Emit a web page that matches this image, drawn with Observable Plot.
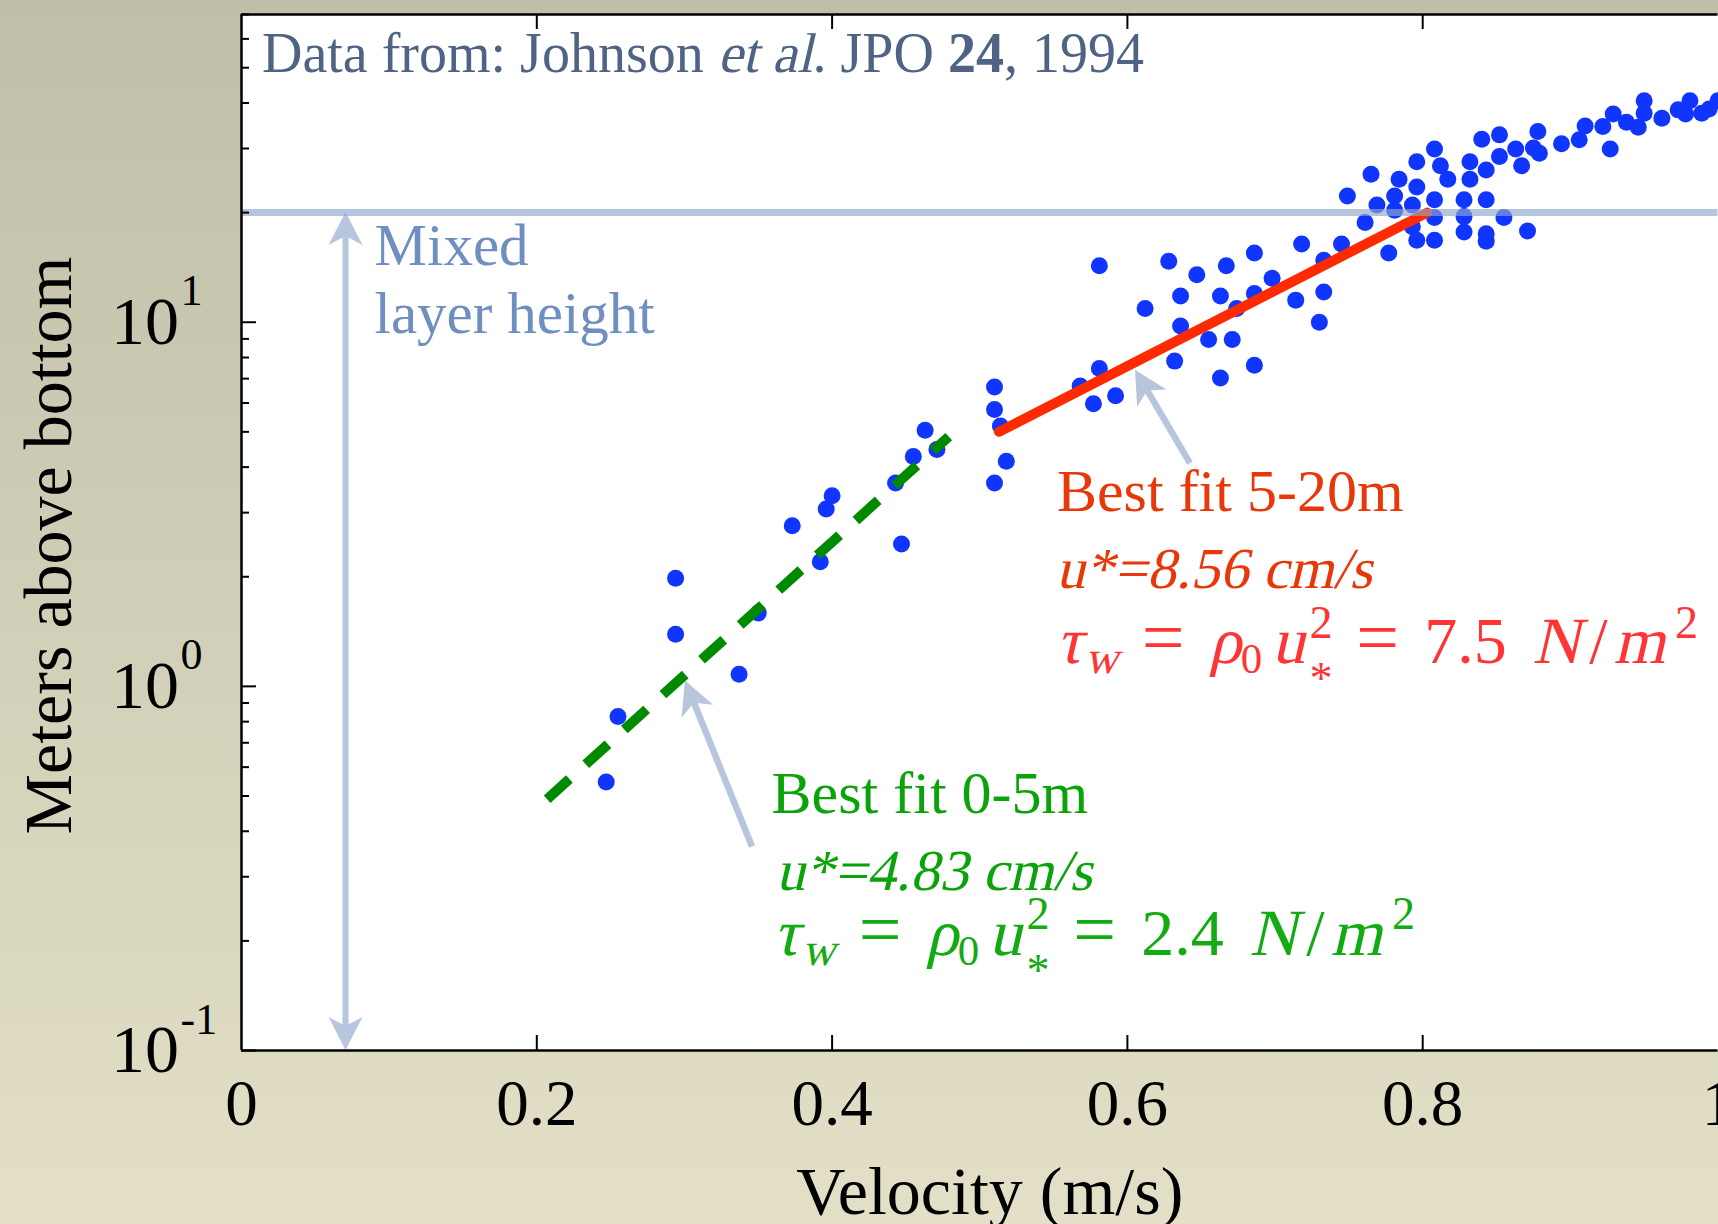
<!DOCTYPE html>
<html>
<head>
<meta charset="utf-8">
<script src="https://cdn.jsdelivr.net/npm/d3@7"></script>
<script src="https://cdn.jsdelivr.net/npm/@observablehq/plot@0.6"></script>
<style>
  html, body { margin: 0; padding: 0; width: 1718px; height: 1224px; overflow: hidden; }
  body { background: linear-gradient(to bottom, #bfbea8 0%, #cfcdb5 45%, #e3e0c7 100%); }
  #chart svg { display: block; }
</style>
</head>
<body>
<div id="chart"></div>
<script>
// ---------- data ----------
const velocity = [
  0.463, 0.471, 0.455, 0.400, 0.396, 0.443, 0.373, 0.447, 0.392, 0.294, 0.350, 0.294, 0.337, 0.255, 0.247,
  0.581, 0.628, 0.647, 0.667, 0.686, 0.718, 0.745, 0.733, 0.612, 0.636, 0.663, 0.686, 0.698, 0.674, 0.714, 0.733,
  0.730, 0.636, 0.655, 0.671, 0.632, 0.686, 0.663, 0.581, 0.568, 0.577, 0.592, 0.510, 0.510, 0.514, 0.518, 0.510,
  0.950, 0.950, 0.981, 0.973, 0.978, 0.989, 0.994, 1.000, 0.962, 0.929, 0.938, 0.946, 0.922, 0.910, 0.906, 0.894,
  0.927, 0.878, 0.875, 0.879, 0.863, 0.867, 0.852, 0.840, 0.852, 0.843, 0.832, 0.832, 0.808, 0.812, 0.817, 0.796,
  0.796, 0.784, 0.765, 0.749, 0.769, 0.781, 0.781, 0.793, 0.808, 0.828, 0.843, 0.761, 0.793, 0.808, 0.828, 0.855,
  0.828, 0.843, 0.843, 0.871, 0.796, 0.808, 0.777
];
const depth = [
  5.05, 4.47, 4.28, 3.34, 3.07, 3.62, 2.76, 2.46, 2.20, 1.98, 1.59, 1.39, 1.08, 0.826, 0.546,
  14.3, 14.7, 13.5, 14.3, 15.5, 16.4, 16.4, 14.8, 10.9, 11.8, 11.8, 12.0, 13.2, 10.9, 11.5, 12.1,
  10.0, 9.77, 8.96, 8.96, 7.82, 7.62, 7.03, 7.46, 6.68, 5.97, 6.28, 6.64, 5.76, 5.19, 4.15, 3.62,
  40.6, 37.5, 40.6, 38.3, 37.3, 37.5, 38.5, 40.6, 36.3, 37.3, 35.4, 34.3, 34.5, 34.6, 31.7, 30.9,
  29.9, 33.4, 30.1, 29.1, 29.9, 26.9, 32.7, 31.8, 28.5, 26.2, 27.6, 24.7, 29.9, 26.9, 24.7, 27.6,
  23.5, 24.7, 25.5, 22.2, 21.0, 22.2, 20.3, 21.0, 21.7, 21.7, 21.7, 18.8, 18.3, 19.4, 19.5, 19.4,
  17.7, 17.5, 16.7, 17.8, 16.8, 16.8, 15.5
];

// best-fit lines
const fitShallowX = [0.207, 0.479];
const fitShallowY = [0.49, 4.85];
const fitDeepX = [0.513, 0.803];
const fitDeepY = [5, 20];

// mixed layer
const mixedLayerHeight = 20;
const mixedArrowX = 0.0708;
const mixedLabel = ["Mixed", "layer height"];
const mixedLabelX = [0.0901, 0.0901];
const mixedLabelY = [14.35, 9.33];

// axes
const xTicks = [0, 0.2, 0.4, 0.6, 0.8, 1];
const xTickLabels = ["0", "0.2", "0.4", "0.6", "0.8", "1"];
const xInnerTicks = [0.2, 0.4, 0.6, 0.8];
const yMajorTicks = [0.1, 1, 10];
const yTickBase = ["10", "10", "10"];
const yTickExponents = ["-1", "0", "1"];
const yMinorTicks = [0.2, 0.3, 0.4, 0.5, 0.6, 0.7, 0.8, 0.9, 2, 3, 4, 5, 6, 7, 8, 9, 20, 30, 40, 50, 60, 70];
const xTitle = "Velocity (m/s)";
const yTitle = "Meters above bottom";

// annotations
const fitLabels = ["Best fit 5-20m", "Best fit 0-5m"];
const fitLabelX = [0.5523, 0.359];
const fitLabelY = [3.04, 0.449];
const uStarLabels = ["u*=8.56 cm/s", "u*=4.83 cm/s"];
const uStarX = [0.552, 0.3623];
const uStarY = [1.854, 0.2755];
const stressValues = ["7.5", "2.4"];
const stressX = [0.552, 0.3603];
const stressY = [1.153, 0.1825];
const arrowTailX = [0.6427, 0.3461];
const arrowTailY = [4.09, 0.362];
const arrowTipX = [0.6055, 0.3007];
const arrowTipY = [7.38, 1.035];
const sourceNote = [["Data from: Johnson ", ""], ["et al", "i"], [". JPO ", ""], ["24", "b"], [", 1994", ""]];
const sourceX = 0.0142, sourceY = 48.4;

// ---------- styles ----------
const FONT = '"Liberation Serif", "Times New Roman", Times, serif';
const W = 1718, H = 1224, ML = 241, MR = 0.5, MT = 14, MB = 174;
const innerW = W - ML - MR, innerH = H - MT - MB;
const RED = "#e8380a", RED_EQ = "#ff3434", GREEN = "#0aa30a", GREEN_EQ = "#12ab12";
const ARROW = "#b8c6dd";
const SKEW = -13;
const fitColors = [RED, GREEN], eqColors = [RED_EQ, GREEN_EQ];

const points = velocity.map((v, i) => ({v, d: depth[i]}));
const shallow = fitShallowX.map((x, i) => ({x, y: fitShallowY[i]}));
const deep = fitDeepX.map((x, i) => ({x, y: fitDeepY[i]}));

const measureCtx = document.createElement("canvas").getContext("2d");
function textWidth(text, size, weight) {
  measureCtx.font = `${weight || "normal"} ${size}px ${FONT}`;
  return measureCtx.measureText(text).width;
}

function drawArrow(g, X1, Y1, X2, Y2, {color, headLen, headHalf, notch}) {
  const dx = X2 - X1, dy = Y2 - Y1, L = Math.hypot(dx, dy);
  const ux = dx / L, uy = dy / L, px = -uy, py = ux;
  const bx = X2 - ux * headLen, by = Y2 - uy * headLen;
  const nx = X2 - ux * (headLen - notch), ny = Y2 - uy * (headLen - notch);
  g.append("path")
    .attr("d", `M${bx + px * headHalf},${by + py * headHalf}L${X2},${Y2}L${bx - px * headHalf},${by - py * headHalf}L${nx},${ny}Z`)
    .attr("fill", color);
  return [nx, ny];
}

function annotationArrows(index, scales) {
  const g = d3.create("svg:g");
  const sx = scales.x, sy = scales.y;
  arrowTipX.forEach((_, i) => {
    const X1 = sx(arrowTailX[i]), Y1 = sy(arrowTailY[i]);
    const X2 = sx(arrowTipX[i]), Y2 = sy(arrowTipY[i]);
    const [nx, ny] = drawArrow(g, X1, Y1, X2, Y2, {color: ARROW, headLen: 33, headHalf: 17, notch: 9});
    g.insert("line", ":first-child").attr("x1", X1).attr("y1", Y1).attr("x2", nx).attr("y2", ny)
      .attr("stroke", ARROW).attr("stroke-width", 6.5);
  });
  // mixed layer double arrow
  const X = sx(mixedArrowX), Yt = sy(mixedLayerHeight), Yb = sy(yMajorTicks[0]);
  const [ax, ay] = drawArrow(g, X, Yb, X, Yt, {color: ARROW, headLen: 33, headHalf: 17, notch: 9});
  const [bx, by] = drawArrow(g, X, Yt, X, Yb, {color: ARROW, headLen: 33, headHalf: 17, notch: 9});
  g.insert("line", ":first-child").attr("x1", ax).attr("y1", ay).attr("x2", bx).attr("y2", by)
    .attr("stroke", ARROW).attr("stroke-width", 6);
  return g.node();
}

// one text piece; italic drawn as slanted upright serif
function piece(g, X, Y, str, size, color, {italic, bold} = {}) {
  const t = g.append("text")
    .attr("transform", italic ? `translate(${X},${Y}) skewX(${SKEW})` : `translate(${X},${Y})`)
    .attr("text-anchor", "start")
    .attr("font-family", FONT).attr("font-size", size).attr("fill", color)
    .text(str);
  if (bold) t.attr("font-weight", "bold");
  return t;
}

// equation layout: o = horizontal offset (em of main size), s = relative size, sh = baseline shift (em)
function eqParts(val) {
  return [
    {t: "τ", i: true, o: 0},
    {t: "w", i: true, s: 0.7, sh: 0.15, o: 0.44},
    {t: "=", s: 1.15, o: 1.30},
    {t: "ρ", i: true, o: 2.31},
    {t: "0", s: 0.65, sh: 0.15, o: 2.80},
    {t: "u", i: true, o: 3.27},
    {t: "2", s: 0.7, sh: -0.39, o: 3.84},
    {t: "*", s: 0.7, sh: 0.47, o: 3.84},
    {t: "=", s: 1.15, o: 4.55},
    {t: val, o: 5.58},
    {t: "N", i: true, o: 7.22},
    {t: "/", o: 8.08},
    {t: "m", i: true, o: 8.45},
    {t: "2", s: 0.7, sh: -0.39, o: 9.38}
  ];
}

function textLayer(index, scales) {
  const g = d3.create("svg:g");
  const sx = scales.x, sy = scales.y;
  // source note
  let X = sx(sourceX);
  const Ys = sy(sourceY), noteSize = 56;
  for (const [t, f] of sourceNote) {
    piece(g, X, Ys, t, noteSize, "#4f6385", {italic: f === "i", bold: f === "b"});
    X += textWidth(t, noteSize, f === "b" ? "bold" : "normal");
  }
  // u* labels
  uStarLabels.forEach((t, i) => {
    piece(g, sx(uStarX[i]), sy(uStarY[i]), t, 58, fitColors[i], {italic: true});
  });
  // wall stress equations
  const eqSize = 66;
  stressValues.forEach((v, i) => {
    const X0 = sx(stressX[i]), Y0 = sy(stressY[i]);
    for (const p of eqParts(v)) {
      piece(g, X0 + p.o * eqSize, Y0 + (p.sh || 0) * eqSize, p.t, (p.s || 1) * eqSize, eqColors[i], {italic: p.i});
    }
  });
  return g.node();
}

const chart = Plot.plot({
  width: W, height: H,
  marginLeft: ML, marginRight: MR, marginTop: MT, marginBottom: MB,
  x: {domain: [0, 1], axis: null},
  y: {type: "log", domain: [0.1, 70], axis: null},
  style: {background: "transparent", fontFamily: FONT, overflow: "visible"},
  marks: [
    Plot.frame({fill: "white", stroke: "none"}),
    Plot.dot(points, {x: "v", y: "d", r: 8.5, fill: "#1035ff", stroke: "none"}),
    Plot.line(deep, {x: "x", y: "y", stroke: "#ff2a00", strokeWidth: 10}),
    Plot.line(shallow, {x: "x", y: "y", stroke: "#008a00", strokeWidth: 10, strokeDasharray: "30,22", strokeLinecap: "butt"}),
    annotationArrows,
    Plot.ruleY([mixedLayerHeight], {stroke: "#8fa6cc", strokeOpacity: 0.65, strokeWidth: 7}),
    // axis lines
    Plot.ruleX([0], {stroke: "black", strokeWidth: 2.5}),
    Plot.ruleY([0.1], {stroke: "black", strokeWidth: 2.5}),
    Plot.ruleY([70], {stroke: "black", strokeWidth: 2.5}),
    // ticks
    Plot.tickX(xInnerTicks, {x: d => d, insetTop: innerH - 15, stroke: "black", strokeWidth: 2}),
    Plot.tickX(xInnerTicks, {x: d => d, insetBottom: innerH - 15, stroke: "black", strokeWidth: 2}),
    Plot.tickY(yMajorTicks, {y: d => d, insetRight: innerW - 15, stroke: "black", strokeWidth: 2}),
    Plot.tickY(yMinorTicks, {y: d => d, insetRight: innerW - 8, stroke: "black", strokeWidth: 2}),
    // tick labels
    Plot.text(xTicks, {x: d => d, text: (d, i) => xTickLabels[i], frameAnchor: "bottom", dy: 28, lineAnchor: "top", fontSize: 65, fill: "black"}),
    Plot.text(yMajorTicks, {y: d => d, text: (d, i) => yTickBase[i], frameAnchor: "left", dx: -130.5, textAnchor: "start", lineAnchor: "middle", fontSize: 68, fill: "black"}),
    Plot.text(yMajorTicks, {y: d => d, text: (d, i) => yTickExponents[i], frameAnchor: "left", dx: -61, dy: -31, textAnchor: "start", lineAnchor: "middle", fontSize: 44, fill: "black"}),
    // axis titles
    Plot.text([xTitle], {text: d => d, frameAnchor: "bottom", dx: 10, dy: 163, lineAnchor: "bottom", fontSize: 68, fill: "black"}),
    Plot.text([yTitle], {text: d => d, frameAnchor: "left", rotate: -90, dx: -171, dy: 13, textAnchor: "middle", lineAnchor: "bottom", fontSize: 68, fill: "black"}),
    // annotations
    Plot.text(mixedLabel, {text: d => d, x: (d, i) => mixedLabelX[i], y: (d, i) => mixedLabelY[i], textAnchor: "start", lineAnchor: "bottom", fontSize: 59, fill: "#6f8fc0"}),
    Plot.text(fitLabels, {text: d => d, x: (d, i) => fitLabelX[i], y: (d, i) => fitLabelY[i], textAnchor: "start", lineAnchor: "bottom", fontSize: 60, fill: (d, i) => fitColors[i]}),
    textLayer
  ]
});
document.getElementById("chart").append(chart);
</script>
</body>
</html>
